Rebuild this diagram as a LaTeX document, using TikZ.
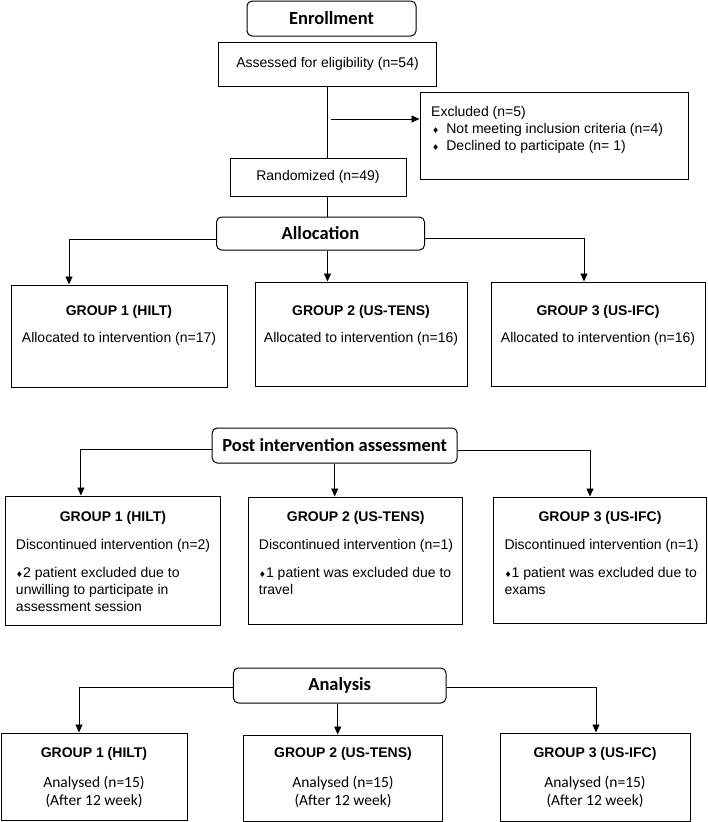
\documentclass[tikz,border=0pt]{standalone}
\usepackage{fontspec}
\setmainfont{Liberation Sans}
\newfontfamily\calfont{Carlito}
\newfontfamily\symfont{DejaVu Sans}
\usetikzlibrary{arrows.meta}
\newcommand{\bul}{{\symfont\fontsize{8}{8}\selectfont ♦}}
\begin{document}
\begin{tikzpicture}[x=1pt,y=-1pt,
  box/.style={draw, line width=1pt, inner sep=0pt, anchor=center, font=\fontsize{14}{16}\selectfont},
  rbox/.style={box, rounded corners=5pt, font=\calfont\bfseries\fontsize{18.5}{20}\selectfont},
  arr/.style={-{Triangle[length=8pt,width=7pt]}, line width=0.9pt},
  ln/.style={line width=0.9pt},
  txt/.style={font=\fontsize{14}{16}\selectfont, inner sep=0pt, anchor=base west},
  ctxt/.style={font=\fontsize{14}{16}\selectfont, inner sep=0pt, anchor=base},
  ttl/.style={font=\bfseries\fontsize{14}{16}\selectfont, inner sep=0pt, anchor=base},
  ctl/.style={font=\calfont\fontsize{15.5}{17}\selectfont, inner sep=0pt, anchor=base}]
\useasboundingbox (0,0) rectangle (708,822);

% Enrollment
\node[rbox, minimum width=169pt, minimum height=35pt] (enr) at (331.5,18.5) {Enrollment};
\node[box, minimum width=218pt, minimum height=44pt] (ass) at (327.5,64) {Assessed for eligibility (n=54)};
\node[box, minimum width=268pt, minimum height=87pt] (exc) at (554,135.5) {};
\node[txt] (exct) at (431,116) {Excluded (n=5)};
\node[txt] (exc1) at (432,133) {\bul\hspace{7pt}Not meeting inclusion criteria (n=4)};
\node[txt] (exc2) at (432,150) {\bul\hspace{7pt}Declined to participate (n= 1)};
\node[box, minimum width=176pt, minimum height=38pt] (ran) at (318,177) {Randomized (n=49)};
\coordinate (br) at (327.5,119);

\draw[ln] (ass.south -| br) -- (ran.north -| br);
\draw[arr] ([xshift=3pt]br) -- (exc.west |- br);

% Allocation
\node[rbox, minimum width=208pt, minimum height=33pt] (alloc) at (320.5,233.5) {Allocation};
\draw[ln] (ran.south -| br) -- (alloc.north -| br);

\node[box, minimum width=216pt, minimum height=102pt] (g1a) at (119,336) {};
\node[box, minimum width=212pt, minimum height=104pt] (g2a) at (361,334) {};
\node[box, minimum width=214pt, minimum height=104pt] (g3a) at (598,334) {};
\node[ttl] (g1at) at (119,315) {GROUP 1 (HILT)};
\node[ctxt] (g1ad) at (119,342) {Allocated to intervention (n=17)};
\node[ttl] (g2at) at (361,315) {GROUP 2 (US-TENS)};
\node[ctxt] (g2ad) at (361,342) {Allocated to intervention (n=16)};
\node[ttl] (g3at) at (598,315) {GROUP 3 (US-IFC)};
\node[ctxt] (g3ad) at (598,342) {Allocated to intervention (n=16)};

\draw[arr] ([yshift=-5.5pt]alloc.west) -| ([xshift=-50pt]g1a.north);
\draw[arr] (alloc.south -| br) -- (g2a.north -| br);
\draw[arr] ([yshift=-4.5pt]alloc.east) -| ([xshift=-14pt]g3a.north);

% Post intervention
\node[rbox, minimum width=245pt, minimum height=35pt] (post) at (334.7,445.5) {Post intervention assessment};
\node[box, minimum width=215pt, minimum height=129pt] (g1p) at (112.9,560.5) {};
\node[box, minimum width=214.5pt, minimum height=127pt] (g2p) at (355.7,560.5) {};
\node[box, minimum width=213pt, minimum height=126pt] (g3p) at (600,560) {};
\node[ttl] (g1pt) at (112.9,521) {GROUP 1 (HILT)};
\node[txt] (g1pd) at (15.8,549) {Discontinued intervention (n=2)};
\node[txt] (g1p1) at (15.8,577) {\bul2 patient excluded due to};
\node[txt] (g1p2) at (15.8,594) {unwilling to participate in};
\node[txt] (g1p3) at (15.8,611) {assessment session};
\node[ttl] (g2pt) at (355.7,521) {GROUP 2 (US-TENS)};
\node[txt] (g2pd) at (258.7,549) {Discontinued intervention (n=1)};
\node[txt] (g2p1) at (258.7,577) {\bul1 patient was excluded due to};
\node[txt] (g2p2) at (258.7,594) {travel};
\node[ttl] (g3pt) at (600,521) {GROUP 3 (US-IFC)};
\node[txt] (g3pd) at (504.3,549) {Discontinued intervention (n=1)};
\node[txt] (g3p1) at (504.3,577) {\bul1 patient was excluded due to};
\node[txt] (g3p2) at (504.3,594) {exams};

\draw[arr] ([yshift=-3.5pt]post.west) -| ([xshift=-32pt]g1p.north);
\draw[arr] (post.south) -- (post.south |- g2p.north);
\draw[arr] ([yshift=-4.5pt]post.east) -| ([xshift=-10pt]g3p.north);

% Analysis
\node[rbox, minimum width=212.6pt, minimum height=35pt] (ana) at (339.7,685.5) {Analysis};
\node[box, minimum width=186pt, minimum height=87pt] (g1n) at (94,776.5) {};
\node[box, minimum width=198.6pt, minimum height=86pt] (g2n) at (343,778) {};
\node[box, minimum width=190pt, minimum height=88pt] (g3n) at (595,777) {};
\node[ttl] (g1nt) at (94,757) {GROUP 1 (HILT)};
\node[ctl] (g1n1) at (94,787) {Analysed (n=15)};
\node[ctl] (g1n2) at (94,805) {(After 12 week)};
\node[ttl] (g2nt) at (343,757) {GROUP 2 (US-TENS)};
\node[ctl] (g2n1) at (343,787) {Analysed (n=15)};
\node[ctl] (g2n2) at (343,805) {(After 12 week)};
\node[ttl] (g3nt) at (595,757) {GROUP 3 (US-IFC)};
\node[ctl] (g3n1) at (595,787) {Analysed (n=15)};
\node[ctl] (g3n2) at (595,805) {(After 12 week)};

\draw[arr] ([yshift=-1.5pt]ana.west) -| ([xshift=-15pt]g1n.north);
\draw[arr] ([xshift=-2pt]ana.south) -- ([xshift=-2pt]ana.south |- g2n.north);
\draw[arr] ([yshift=-1.5pt]ana.east) -| ([xshift=1pt]g3n.north);
\end{tikzpicture}
\end{document}
